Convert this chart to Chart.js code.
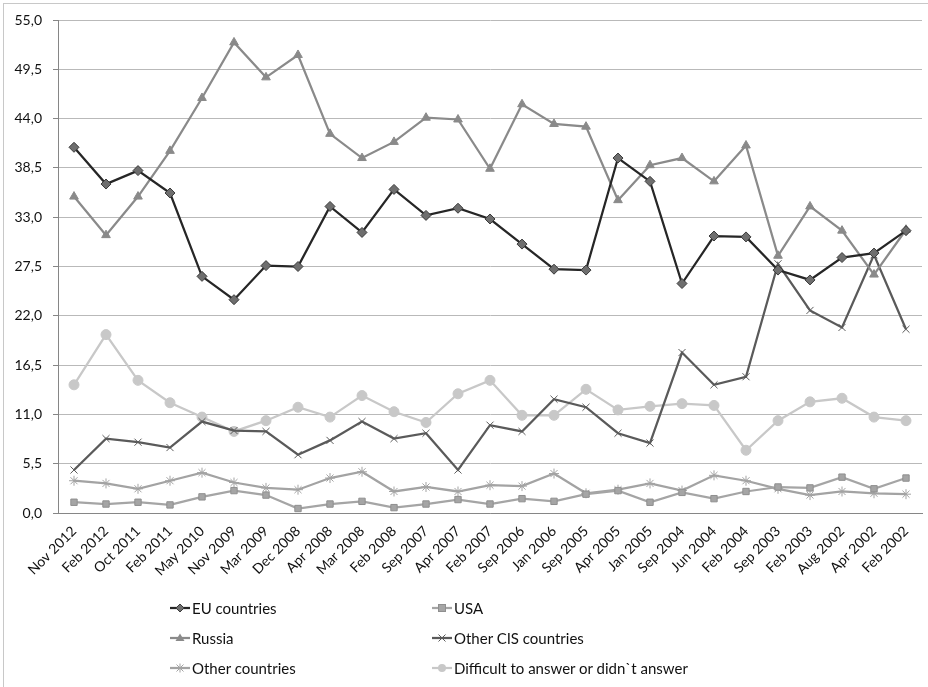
<!DOCTYPE html>
<html>
<head>
<meta charset="utf-8">
<script src="https://cdn.jsdelivr.net/npm/chart.js"></script>
<style>
  html, body { margin: 0; padding: 0; background: #fff; overflow: hidden; }
  body { width: 928px; height: 687px; position: relative; font-family: Lato, "Open Sans", sans-serif; }
  #frame { position: absolute; left: 3px; top: 3px; width: 1000px; height: 1000px; border: 1px solid #c8c8c8; }
  #wrap { position: absolute; left: 0; top: 0; width: 928px; height: 687px; }
  .item { position: absolute; display: flex; align-items: center; height: 20px; font-size: 15px; color: #111; white-space: nowrap; }
  .item svg { margin-right: 2px; }
</style>
</head>
<body>
<div id="frame"></div>
<div id="wrap"><canvas id="chart"></canvas></div>
<div id="legend"></div>
<script>
// survey waves, newest first
const categories = ['Nov 2012', 'Feb 2012', 'Oct 2011', 'Feb 2011', 'May 2010', 'Nov 2009', 'Mar 2009',
  'Dec 2008', 'Apr 2008', 'Mar 2008', 'Feb 2008', 'Sep 2007', 'Apr 2007', 'Feb 2007', 'Sep 2006',
  'Jan 2006', 'Sep 2005', 'Apr 2005', 'Jan 2005', 'Sep 2004', 'Jun 2004', 'Feb 2004', 'Sep 2003',
  'Feb 2003', 'Aug 2002', 'Apr 2002', 'Feb 2002'];

const euCountries = [40.8, 36.7, 38.2, 35.7, 26.4, 23.8, 27.6, 27.5, 34.2, 31.3, 36.1, 33.2, 34.0, 32.8,
  30.0, 27.2, 27.1, 39.6, 37.0, 25.6, 30.9, 30.8, 27.1, 26.0, 28.5, 29.0, 31.5];
const usa = [1.2, 1.0, 1.2, 0.9, 1.8, 2.5, 2.0, 0.5, 1.0, 1.3, 0.6, 1.0, 1.5, 1.0,
  1.6, 1.3, 2.1, 2.5, 1.2, 2.3, 1.6, 2.4, 2.9, 2.8, 4.0, 2.7, 3.9];
const russia = [35.3, 31.0, 35.3, 40.4, 46.3, 52.5, 48.6, 51.1, 42.3, 39.6, 41.4, 44.1, 43.9, 38.4,
  45.6, 43.4, 43.1, 34.9, 38.8, 39.6, 37.0, 41.0, 28.7, 34.2, 31.5, 26.6, 31.6];
const otherCis = [4.8, 8.3, 7.9, 7.3, 10.2, 9.2, 9.1, 6.5, 8.1, 10.2, 8.3, 8.9, 4.8, 9.8,
  9.1, 12.7, 11.8, 8.9, 7.8, 17.9, 14.3, 15.2, 27.8, 22.6, 20.7, 28.8, 20.5];
const otherCountries = [3.6, 3.3, 2.7, 3.6, 4.5, 3.4, 2.8, 2.6, 3.9, 4.6, 2.4, 2.9, 2.4, 3.1,
  3.0, 4.4, 2.2, 2.6, 3.3, 2.5, 4.2, 3.6, 2.7, 2.0, 2.4, 2.2, 2.1];
const difficult = [14.3, 19.9, 14.8, 12.3, 10.7, 9.1, 10.3, 11.8, 10.7, 13.1, 11.3, 10.1, 13.3, 14.8,
  10.9, 10.9, 13.8, 11.5, 11.9, 12.2, 12.0, 7.0, 10.3, 12.4, 12.8, 10.7, 10.3];

const seriesNames = ['EU countries', 'USA', 'Russia', 'Other CIS countries', 'Other countries',
  'Difficult to answer or didn`t answer'];

const mk = (label, data, line, fill, stroke, style, radius) => ({
  label: label,
  data: data,
  borderColor: line,
  borderWidth: 2.25,
  pointStyle: style,
  pointRadius: radius,
  pointBackgroundColor: fill,
  pointBorderColor: stroke,
  pointBorderWidth: 1,
  tension: 0,
  fill: false
});

const datasets = [
  mk(seriesNames[0], euCountries, '#262626', '#6e6e6e', '#3a3a3a', 'rectRot', 5),
  mk(seriesNames[1], usa, '#a5a5a5', '#a5a5a5', '#8f8f8f', 'rect', 4.5),
  mk(seriesNames[2], russia, '#8a8a8a', '#8a8a8a', '#8a8a8a', 'triangle', 5),
  mk(seriesNames[3], otherCis, '#5a5a5a', '#5a5a5a', '#5a5a5a', 'crossRot', 5),
  mk(seriesNames[4], otherCountries, '#a3a3a3', '#a3a3a3', '#a3a3a3', 'star', 5),
  mk(seriesNames[5], difficult, '#c8c8c8', '#c8c8c8', '#c8c8c8', 'circle', 5)
];

const ctx = document.getElementById('chart').getContext('2d');

const chart = new Chart(ctx, {
  type: 'line',
  data: { labels: categories, datasets: datasets },
  options: {
    responsive: true,
    maintainAspectRatio: false,
    animation: false,
    layout: { padding: { top: 20, right: 4, bottom: 94, left: 0 } },
    plugins: {
      legend: { display: false },
      tooltip: { enabled: false }
    },
    scales: {
      x: {
        offset: true,
        grid: { display: false },
        border: { display: true, color: '#868686', width: 1 },
        ticks: {
          autoSkip: false,
          maxRotation: 45,
          minRotation: 45,
          padding: 2,
          color: '#111',
          font: { family: 'Lato', size: 14 }
        },
        afterFit: function(scale) { scale.height = 80; }
      },
      y: {
        min: 0,
        max: 55,
        grid: { color: '#b9b9b9', lineWidth: 1, drawTicks: true, tickLength: 5, tickColor: '#868686' },
        border: { display: true, color: '#868686', width: 1 },
        ticks: {
          stepSize: 5.5,
          padding: 11,
          color: '#111',
          font: { family: 'Lato', size: 14 },
          callback: function(value) {
            return value.toFixed(1).replace('.', ',');
          }
        },
        afterFit: function(scale) { scale.width = 58; }
      }
    }
  }
});

// legend below the chart, two columns like the original
const legendPos = [[170, 598], [432, 598], [170, 628], [432, 628], [170, 658], [432, 658]];

function icon(ds) {
  const c = ds.pointBackgroundColor, s = ds.pointBorderColor, l = ds.borderColor;
  let m = '';
  if (ds.pointStyle === 'rectRot') m = '<polygon points="10,6 14,10 10,14 6,10" fill="' + c + '" stroke="' + s + '"/>';
  if (ds.pointStyle === 'rect') m = '<rect x="6.5" y="6.5" width="7" height="7" fill="' + c + '" stroke="' + s + '"/>';
  if (ds.pointStyle === 'triangle') m = '<polygon points="10,5.5 14.5,13 5.5,13" fill="' + c + '"/>';
  if (ds.pointStyle === 'crossRot') m = '<path d="M6.5,6.5L13.5,13.5M13.5,6.5L6.5,13.5" stroke="' + s + '"/>';
  if (ds.pointStyle === 'star') m = '<path d="M6.5,6.5L13.5,13.5M13.5,6.5L6.5,13.5M10,5.5L10,14.5" stroke="' + s + '"/>';
  if (ds.pointStyle === 'circle') m = '<circle cx="10" cy="10" r="4" fill="' + c + '"/>';
  return '<svg width="20" height="20"><line x1="0" y1="10" x2="20" y2="10" stroke="' + l + '" stroke-width="2.25"/>' + m + '</svg>';
}

const legend = document.getElementById('legend');
chart.data.datasets.forEach(function(ds, i) {
  const el = document.createElement('div');
  el.className = 'item';
  el.style.left = legendPos[i][0] + 'px';
  el.style.top = legendPos[i][1] + 'px';
  el.innerHTML = icon(ds) + '<span>' + ds.label + '</span>';
  legend.appendChild(el);
});
</script>
</body>
</html>
